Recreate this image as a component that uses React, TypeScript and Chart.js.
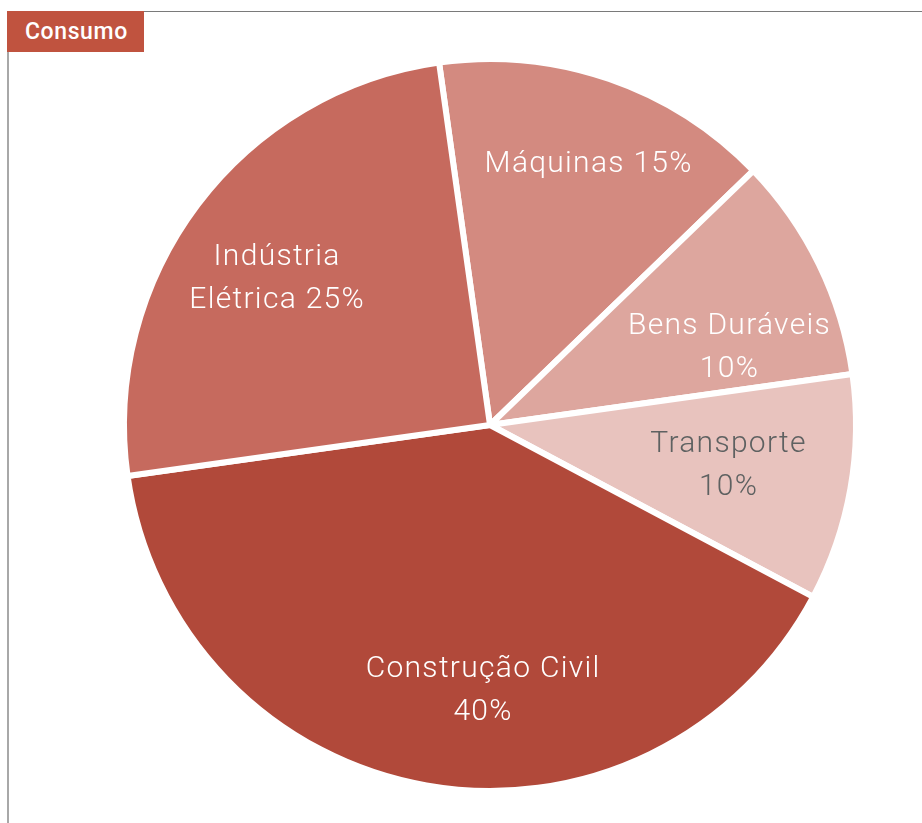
import React, { useEffect, useRef } from "react";
import { Chart, registerables } from "chart.js";

Chart.register(...registerables);

const categories = ["Máquinas", "Bens Duráveis", "Transporte", "Construção Civil", "Indústria Elétrica"];
const values = [15, 10, 10, 40, 25];
const labelLines = [
  ["Máquinas 15%"],
  ["Bens Duráveis", "10%"],
  ["Transporte", "10%"],
  ["Construção Civil", "40%"],
  ["Indústria", "Elétrica 25%"],
];
const colors = ["#D38A80", "#DDA69E", "#E8C3BE", "#B1493A", "#C66A5E"];
const textColors = ["#FFFFFF", "#FFFFFF", "#5E6161", "#FFFFFF", "#FFFFFF"];
// label placement: fraction of radius and angle nudge (degrees)
const labelRadius = [0.77, 0.69, 0.66, 0.72, 0.71];
const labelAngleNudge = [1.5, 7.5, -1, -8.5, -2];

const FONT = "Roboto, 'DejaVu Sans', sans-serif";

const labelPlugin = {
  id: "sliceLabels",
  afterDatasetsDraw(chart: any) {
    const ctx = chart.ctx;
    const meta = chart.getDatasetMeta(0);
    ctx.save();
    ctx.font = `300 30px ${FONT}`;
    (ctx as any).letterSpacing = "1.3px";
    ctx.textAlign = "center";
    ctx.textBaseline = "middle";
    meta.data.forEach((arc: any, i: number) => {
      const p = arc.getProps(["x", "y", "startAngle", "endAngle", "outerRadius"], true);
      const mid = (p.startAngle + p.endAngle) / 2 + (labelAngleNudge[i] * Math.PI) / 180;
      const r = p.outerRadius * labelRadius[i];
      const cx = p.x + Math.cos(mid) * r;
      const cy = p.y + Math.sin(mid) * r + 3;
      const lines = labelLines[i];
      const lh = 43;
      ctx.fillStyle = textColors[i];
      lines.forEach((t, j) => {
        ctx.fillText(t, cx, cy + (j - (lines.length - 1) / 2) * lh);
      });
    });
    ctx.restore();
  },
};

export default function App() {
  const ref = useRef<HTMLCanvasElement>(null);
  useEffect(() => {
    if (!ref.current) return;
    const chart = new Chart(ref.current, {
      type: "pie",
      data: {
        labels: categories,
        datasets: [
          {
            data: values,
            backgroundColor: colors,
            borderColor: "#FFFFFF",
            borderWidth: 6,
            hoverOffset: 0,
          },
        ],
      },
      options: {
        animation: false,
        responsive: false,
        rotation: -8,
        layout: { padding: { left: 121, right: 63, top: 56, bottom: 29 } },
        plugins: {
          legend: { display: false },
          tooltip: { enabled: false },
          title: { display: false },
        },
      },
      plugins: [labelPlugin],
    });
    return () => chart.destroy();
  }, []);

  return (
    <div style={{ position: "absolute", left: 0, top: 0, width: 922, height: 823, background: "#fff", overflow: "hidden" }}>
      <canvas ref={ref} width={922} height={823} style={{ position: "absolute", left: 0, top: 0 }} />
      <div style={{ position: "absolute", left: 8, top: 11, width: 914, height: 1, background: "#7a7a7a" }} />
      <div style={{ position: "absolute", left: 7, top: 11, width: 2, height: 812, background: "#a8a8a8" }} />
      <div
        style={{
          position: "absolute",
          left: 7,
          top: 11,
          width: 137,
          height: 41,
          background: "#C0533F",
          color: "#fff",
          fontFamily: FONT,
          fontWeight: 500,
          fontSize: 23,
          lineHeight: "41px",
          paddingLeft: 18,
          boxSizing: "border-box",
          letterSpacing: 0.6,
        }}
      >
        Consumo
      </div>
    </div>
  );
}
